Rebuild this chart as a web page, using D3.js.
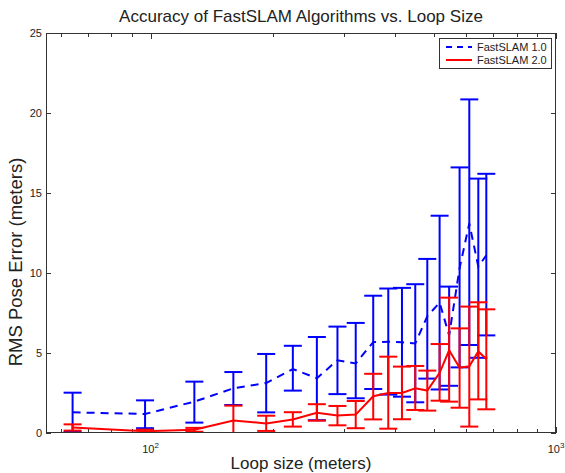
<!DOCTYPE html>
<html><head><meta charset="utf-8">
<script src="https://cdn.jsdelivr.net/npm/d3@7"></script>
<style>body{margin:0;background:#fff}text{font-family:"Liberation Sans",Arial,sans-serif;fill:#222}</style>
</head><body>
<svg id="c" width="565" height="473"></svg>
<script>
// ---- data ----
const loopSizes = [64.2, 96.9, 128.2, 160, 192.8, 224.3, 257.1, 289, 320.6, 354.1, 385.7, 416.9, 449.6, 481.4, 516.3, 545, 578.3, 611.1, 643.2, 673.1];
const fs1Mean = [1.29, 1.19, 1.96, 2.79, 3.12, 4.0, 3.42, 4.55, 4.35, 5.68, 5.7, 5.67, 5.6, 7.3, 8.15, 6.1, 10.3, 13.1, 10.4, 11.1];
const fs1Low  = [0.06, 0.3, 0.65, 1.75, 1.29, 2.65, 0.8, 2.43, 2.17, 2.75, 2.4, 2.27, 1.92, 3.4, 2.72, 2.95, 4.1, 5.5, 4.7, 6.1];
const fs1High = [2.52, 2.04, 3.21, 3.81, 4.94, 5.45, 6.0, 6.65, 6.88, 8.58, 9.03, 9.07, 9.3, 10.88, 13.58, 9.15, 16.6, 20.85, 15.9, 16.2];
const fs2Mean = [0.35, 0.11, 0.2, 0.78, 0.6, 0.85, 1.27, 1.1, 1.15, 2.3, 2.5, 2.5, 2.79, 2.65, 3.76, 5.17, 4.08, 4.17, 5.1, 4.63];
const fs2Low  = [0.15, 0.01, 0.08, -0.15, 0.13, 0.4, 0.77, 0.48, 0.3, 0.85, 0.27, 0.86, 1.44, 1.4, 2.02, 1.96, 1.58, 0.4, 2.1, 1.48];
const fs2High = [0.54, 0.21, 0.32, 1.71, 1.08, 1.3, 1.8, 1.69, 2.0, 3.7, 4.77, 4.15, 4.19, 3.9, 5.56, 8.46, 6.54, 7.9, 8.17, 7.73];
const seriesNames = ["FastSLAM 1.0", "FastSLAM 2.0"];
const yTicks = [0, 5, 10, 15, 20, 25];
const xMajorTicks = [100, 1000];
const xMinorTicks = [60, 70, 80, 90, 200, 300, 400, 500, 600, 700, 800, 900];
const titleText = "Accuracy of FastSLAM Algorithms vs. Loop Size";
const xLabel = "Loop size (meters)";
const yLabel = "RMS Pose Error (meters)";

// ---- layout ----
const L = 46, R = 556, T = 33, B = 433;
const svg = d3.select("#c");
const x = d3.scaleLog().domain([55.2, 1000]).range([L, R]);
const y = d3.scaleLinear().domain([0, 25]).range([B, T]);

svg.append("defs").append("clipPath").attr("id", "clip")
  .append("rect").attr("x", L).attr("y", T).attr("width", R - L).attr("height", B - T);

const axisColor = "#333";
// ticks (inward)
const tk = svg.append("g").attr("stroke", axisColor).attr("stroke-width", 1);
yTicks.forEach(v => {
  const yy = Math.round(y(v)) + 0.5;
  tk.append("line").attr("x1", L).attr("x2", L + 5).attr("y1", yy).attr("y2", yy);
  tk.append("line").attr("x1", R - 5).attr("x2", R).attr("y1", yy).attr("y2", yy);
});
xMajorTicks.concat(xMinorTicks).forEach(v => {
  const xx = Math.round(x(v)) + 0.5;
  const len = xMajorTicks.includes(v) ? 6 : 4;
  tk.append("line").attr("x1", xx).attr("x2", xx).attr("y1", B).attr("y2", B - len);
  tk.append("line").attr("x1", xx).attr("x2", xx).attr("y1", T).attr("y2", T + len);
});

// y tick labels
svg.append("g").selectAll("text").data(yTicks).join("text")
  .attr("x", L - 4).attr("y", d => y(d) + 4)
  .attr("text-anchor", "end").attr("font-size", 11).text(d => d);

// x tick labels 10^n
xMajorTicks.forEach(v => {
  const t = svg.append("text").attr("x", x(v)).attr("y", 453)
    .attr("text-anchor", "middle").attr("font-size", 11);
  t.append("tspan").text("10");
  t.append("tspan").attr("dy", -5).attr("font-size", 8).text(Math.round(Math.log10(v)));
});

// series drawing
function drawSeries(mean, lo, hi, color, dash) {
  const g = svg.append("g").attr("clip-path", "url(#clip)");
  const pts = loopSizes.map((s, i) => ({s, m: mean[i], l: lo[i], h: hi[i]}));
  const eb = g.append("g").attr("stroke", color).attr("stroke-width", 2).attr("fill", "none");
  const cw = 9;
  pts.forEach(p => {
    const xx = x(p.s);
    eb.append("line").attr("x1", xx).attr("x2", xx).attr("y1", y(p.l)).attr("y2", y(p.h));
    eb.append("line").attr("x1", xx - cw).attr("x2", xx + cw).attr("y1", y(p.l)).attr("y2", y(p.l));
    eb.append("line").attr("x1", xx - cw).attr("x2", xx + cw).attr("y1", y(p.h)).attr("y2", y(p.h));
  });
  g.append("path").datum(pts)
    .attr("d", d3.line().x(p => x(p.s)).y(p => y(p.m)))
    .attr("fill", "none").attr("stroke", color).attr("stroke-width", 2)
    .attr("stroke-dasharray", dash || null);
}
drawSeries(fs1Mean, fs1Low, fs1High, "#0000ff", "8,6");
drawSeries(fs2Mean, fs2Low, fs2High, "#ff0000", null);

// frame
svg.append("rect").attr("x", L + 0.5).attr("y", T + 0.5).attr("width", R - L - 1).attr("height", B - T - 1)
  .attr("fill", "none").attr("stroke", axisColor).attr("stroke-width", 1);

// legend
const lg = svg.append("g");
lg.append("rect").attr("x", 439.5).attr("y", 38.5).attr("width", 112).attr("height", 30)
  .attr("fill", "#fff").attr("stroke", axisColor).attr("stroke-width", 1);
[["#0000ff", "6,5"], ["#ff0000", null]].forEach((c, i) => {
  const yy = 47 + i * 13;
  lg.append("line").attr("x1", 446).attr("x2", 472).attr("y1", yy).attr("y2", yy)
    .attr("stroke", c[0]).attr("stroke-width", 2).attr("stroke-dasharray", c[1]);
  lg.append("text").attr("x", 477).attr("y", yy + 4).attr("font-size", 11).text(seriesNames[i]);
});

// titles
svg.append("text").attr("x", (L + R) / 2).attr("y", 22).attr("text-anchor", "middle")
  .attr("font-size", 17).text(titleText);
svg.append("text").attr("x", (L + R) / 2).attr("y", 469).attr("text-anchor", "middle")
  .attr("font-size", 17).text(xLabel);
svg.append("text").attr("transform", "translate(22,262) rotate(-90)").attr("text-anchor", "middle")
  .attr("font-size", 18.5).text(yLabel);
</script>
</body></html>
